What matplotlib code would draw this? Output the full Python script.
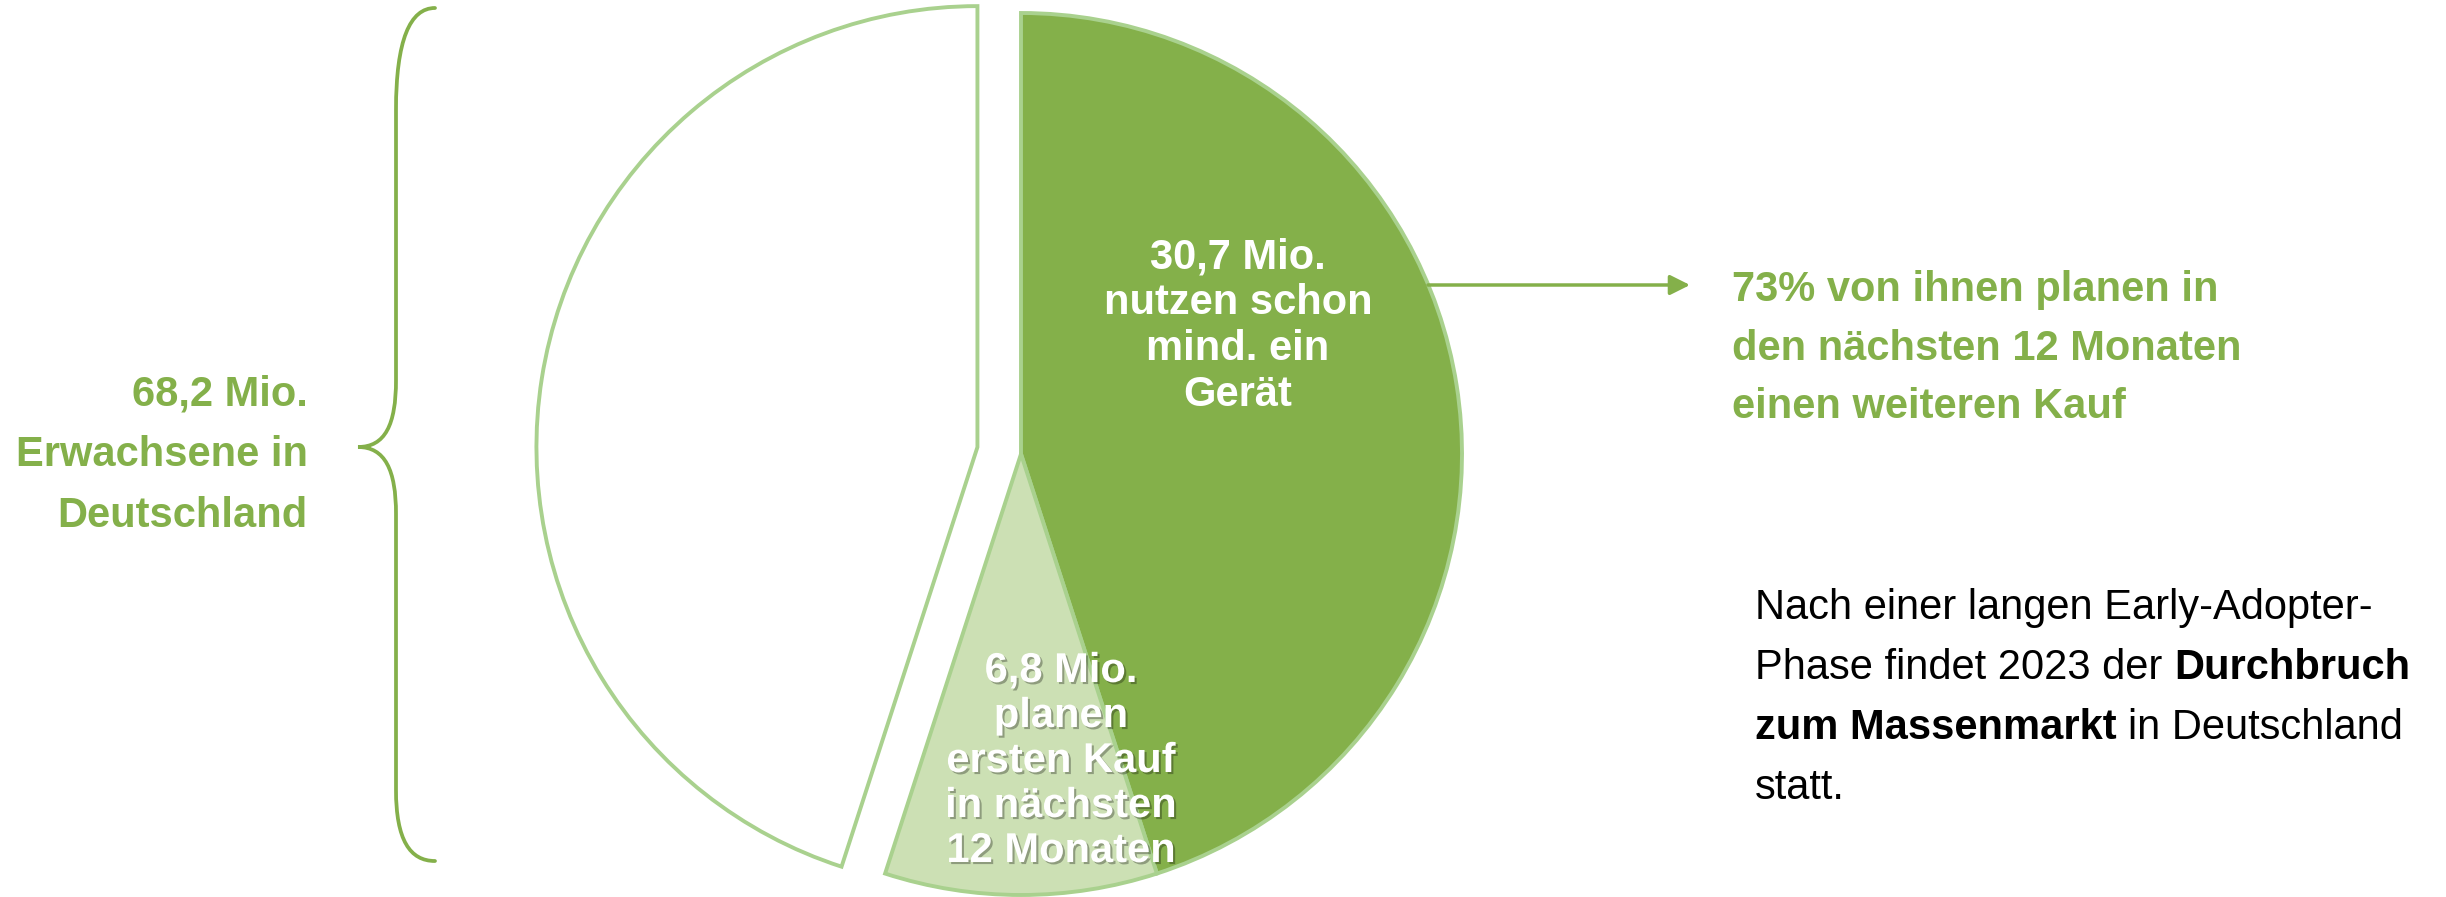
import matplotlib
matplotlib.use("Agg")
import matplotlib.pyplot as plt
import matplotlib.patheffects as pe
from matplotlib.path import Path
from matplotlib.patches import PathPatch

W, H = 2446, 897

# data
total = 68.2
values = [30.7, 6.8, 30.7]          # nutzen schon / planen Kauf / Rest
colors = ["#84B04A", "#CCE0B4", "white"]
explode = [0, 0, 0.1]

label_big = ["30,7 Mio.", "nutzen schon", "mind. ein", "Gerät"]
label_small = ["6,8 Mio.", "planen", "ersten Kauf", "in nächsten", "12 Monaten"]
left_text = ["68,2 Mio.", "Erwachsene in", "Deutschland"]
right_text = ["73% von ihnen planen in", "den nächsten 12 Monaten", "einen weiteren Kauf"]
# bottom note: list of lines, each line a list of (text, bold)
note = [
    [("Nach einer langen Early-Adopter-", False)],
    [("Phase findet 2023 der", False), ("Durchbruch", True)],
    [("zum Massenmarkt", True), ("in Deutschland", False)],
    [("statt.", False)],
]

GREEN = "#84B04A"
EDGE = "#A9D18E"
FONT = "Liberation Sans"
FS = 30
R = 441


def Y(y):
    # image pixel row -> axes y
    return H - y


def lines(ax, txt, x, y0, step, **kw):
    for i, s in enumerate(txt):
        ax.text(x, Y(y0 + i * step), s, va="baseline", family=FONT, fontsize=FS, **kw)


fig = plt.figure(figsize=(W / 100, H / 100), dpi=100)
ax = fig.add_axes([0, 0, 1, 1])

# pie explode works in data units here, so scale by the radius
ax.pie(values, colors=colors, explode=[e * R for e in explode], startangle=90,
       counterclock=False, center=(1021, Y(454)), radius=R,
       wedgeprops=dict(edgecolor=EDGE, linewidth=2.8))
ax.set_xlim(0, W)
ax.set_ylim(0, H)
ax.set_aspect("equal")
ax.axis("off")

# labels inside the pie
lines(ax, label_big, 1238, 268, 46, color="white", weight="bold", ha="center")
shadow = [pe.withSimplePatchShadow(offset=(1.5, -1.5), shadow_rgbFace="black", alpha=0.3)]
for i, s in enumerate(label_small):
    ax.text(1061, Y(682 + i * 45), s, va="baseline", ha="center", family=FONT,
            fontsize=FS, color="white", weight="bold", path_effects=shadow)

# left side: brace + text
lines(ax, left_text, 308, 405, 61, color=GREEN, weight="bold", ha="right")
verts = [(435, 8), (410, 8), (396, 40), (396, 110),
         (396, 380),
         (396, 425), (385, 447), (358, 447),
         (385, 447), (396, 470), (396, 514),
         (396, 790),
         (396, 840), (410, 861), (435, 861)]
codes = [Path.MOVETO, Path.CURVE4, Path.CURVE4, Path.CURVE4,
         Path.LINETO,
         Path.CURVE4, Path.CURVE4, Path.CURVE4,
         Path.CURVE4, Path.CURVE4, Path.CURVE4,
         Path.LINETO,
         Path.CURVE4, Path.CURVE4, Path.CURVE4]
brace = Path([(x, Y(y)) for x, y in verts], codes)
ax.add_patch(PathPatch(brace, facecolor="none", edgecolor=GREEN, lw=2.7, capstyle="round"))

# arrow + right text
ax.annotate("", xy=(1690, Y(285)), xytext=(1428, Y(285)),
            arrowprops=dict(arrowstyle="-|>", color=GREEN, lw=2.5, mutation_scale=30,
                            shrinkA=0, shrinkB=0))
lines(ax, right_text, 1732, 301, 58.5, color=GREEN, weight="bold", ha="left")

# bottom note with mixed weights
renderer = fig.canvas.get_renderer()
probe = ax.text(0, 0, "a a", family=FONT, fontsize=FS)
probe2 = ax.text(0, 0, "aa", family=FONT, fontsize=FS)
space_w = probe.get_window_extent(renderer).width - probe2.get_window_extent(renderer).width
probe.remove()
probe2.remove()
for i, segs in enumerate(note):
    x = 1755
    for j, (s, bold) in enumerate(segs):
        if j > 0:
            x += space_w
        t = ax.text(x, Y(619 + i * 60), s, va="baseline", ha="left", family=FONT,
                    fontsize=FS, color="black", weight="bold" if bold else "normal")
        x = t.get_window_extent(renderer).x1

fig.savefig("out.png", dpi=100)
